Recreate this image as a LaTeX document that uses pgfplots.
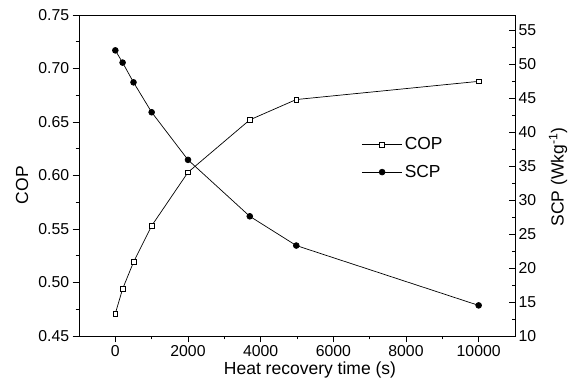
\documentclass[border=0pt]{standalone}
\usepackage{fontspec}
\setmainfont{Liberation Sans}
\usepackage{pgfplots}
\pgfplotsset{compat=1.18}
\begin{document}
\begin{tikzpicture}
\pgfplotsset{
  common/.style={
    scale only axis, width=436bp, height=321bp,
    xmin=-1000, xmax=11000,
    /pgf/number format/assume math mode=true,
    tick label style={font=\fontsize{15.8bp}{18bp}\selectfont, black},
    label style={font=\fontsize{17.5bp}{21bp}\selectfont},
    axis line style={line width=0.9bp},
    every tick/.style={black, line width=0.8bp},
    major tick length=6.3bp, minor tick length=3.4bp,
  },
  copstyle/.style={black, line width=0.7bp, mark=square*, mark options={fill=white, line width=0.7bp, solid}, mark size=2.4bp},
  scpstyle/.style={black, line width=0.7bp, mark=*, mark options={fill=black, solid}, mark size=2.9bp},
}
\begin{axis}[common, name=ax,
  ymin=0.45, ymax=0.75,
  xtick={0,2000,4000,6000,8000,10000}, minor x tick num=1,
  scaled x ticks=false,
  ytick={0.45,0.50,0.55,0.60,0.65,0.70,0.75}, minor y tick num=1,
  xtick pos=bottom, ytick pos=left, tick align=outside,
  x tick label style={/pgf/number format/1000 sep={}},
  y tick label style={/pgf/number format/.cd, fixed, fixed zerofill, precision=2},
  xlabel={Heat recovery time (s)},
  ylabel={COP},
  xlabel style={at={(axis description cs:0.5298,-0.1184)}, anchor=base},
  ylabel style={at={(axis description cs:-0.1307,0.47)}, anchor=center},
]
\addplot[copstyle] coordinates {
  (0,0.471) (200,0.494) (500,0.519) (1000,0.553) (2000,0.603)
  (3700,0.652) (4980,0.671) (10000,0.688)
};
\end{axis}
\begin{axis}[common,
  ymin=10, ymax=57.2,
  axis x line=none, axis y line*=right,
  ytick={10,15,20,25,30,35,40,45,50,55}, minor y tick num=1, tick align=inside,
  ylabel={SCP (Wkg\textsuperscript{-1})},
  ylabel style={at={(axis description cs:1.0986,0.495)}, anchor=center},
  legend image code/.code={\draw[mark repeat=2,mark phase=2,#1] plot coordinates {(0bp,0bp) (20.35bp,0bp) (40.7bp,0bp)};},
  legend style={draw=none, fill=none, at={(axis description cs:0.743,0.5536)}, anchor=center,
    row sep=10bp, font=\fontsize{17.4bp}{20bp}\selectfont},
  legend cell align=left,
]
\addlegendimage{copstyle}
\addlegendentry{COP}
\addplot[scpstyle] coordinates {
  (0,52.0) (200,50.2) (500,47.3) (1000,42.9) (2000,35.9)
  (3700,27.6) (4980,23.3) (10000,14.5)
};
\addlegendentry{SCP}
\end{axis}
\pgfresetboundingbox
\path[use as bounding box] ([xshift=-79bp,yshift=-52bp]ax.south west) rectangle ([xshift=59bp,yshift=15bp]ax.north east);
\end{tikzpicture}
\end{document}
